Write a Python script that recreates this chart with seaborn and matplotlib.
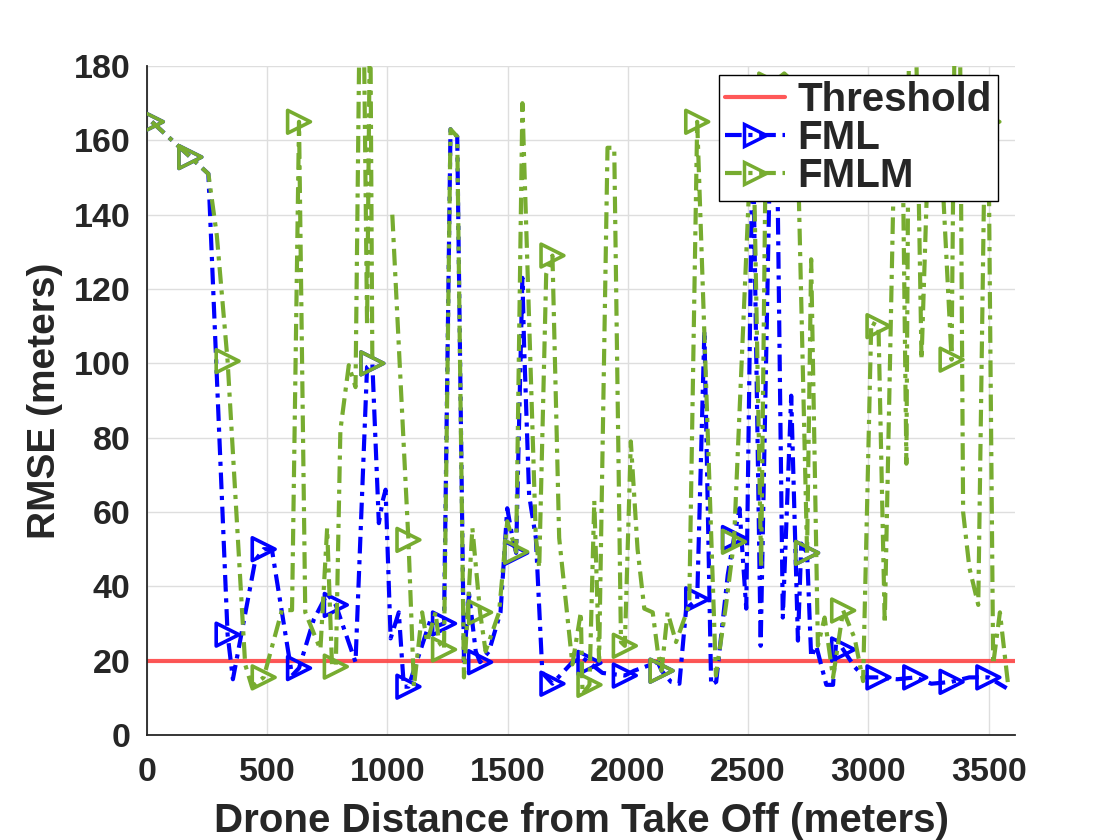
import matplotlib
matplotlib.use("Agg")
import pandas as pd
import matplotlib.pyplot as plt
from matplotlib.lines import Line2D
import seaborn as sns

# data
threshold = 20

# distances where a marker is drawn on both traces
mark_x = [20, 180, 335, 485, 632, 785, 937, 1087, 1235, 1385, 1535, 1686,
          1840, 1987, 2140, 2288, 2441, 2592, 2745, 2895, 3042, 3195, 3346, 3499]

fml_x = [20, 180, 255, 335, 357, 450, 485, 519, 603, 632, 693, 749, 785, 867,
         915, 937, 964, 980, 992, 1013, 1047, 1068, 1087, 1179, 1214, 1235,
         1262, 1290, 1318, 1339, 1367, 1385, 1422, 1470, 1498, 1520, 1535,
         1561, 1568, 1589, 1617, 1644, 1686, 1769, 1811, 1840, 1894, 1987,
         2026, 2124, 2140, 2179, 2214, 2242, 2288, 2318, 2346, 2367, 2415,
         2441, 2464, 2492, 2519, 2552, 2592, 2620, 2644, 2679, 2707, 2721,
         2745, 2762, 2783, 2825, 2853, 2867, 2895, 2943, 2985, 3042, 3120,
         3195, 3262, 3346, 3420, 3499, 3575]
fml_y = [165, 155.5, 151, 27, 15, 47, 50, 50, 16, 18, 31, 38, 35, 19.6,
         99, 100, 57, 63, 66, 26, 33, 13, 13, 31, 29.5, 30,
         163, 161, 20, 38, 22.5, 19.6, 22.5, 33, 61, 53, 49,
         123, 105, 64.5, 53, 16.7, 13.8, 19.6, 20.8, 19.4, 16.7, 16,
         17.3, 19.6, 17.3, 14.3, 13.8, 34, 36.5, 108.8, 13.5, 14.3, 43,
         53, 61, 34, 165, 24, 160, 160, 31.6, 91.3, 25.4, 51.5,
         49, 21, 24, 13.5, 13.5, 26, 23, 18.3, 15.5, 15.5, 15,
         15.5, 13.8, 14.3, 15.5, 15.5, 12.6]

fmlm_x = [20, 180, 255, 290, 335, 408, 436, 485, 561, 603, 632, 658, 721, 749,
          769, 785, 804, 839, 867, 885, 900, 915, 928, 937,
          1020, 1087, 1110, 1144, 1165, 1200, 1214, 1235, 1262, 1290, 1318,
          1353, 1385, 1408, 1464, 1498, 1535, 1561, 1617, 1631, 1660, 1686,
          1714, 1769, 1804, 1811, 1840, 1860, 1880, 1915, 1943, 1971, 1987,
          2012, 2040, 2068, 2103, 2124, 2140, 2165, 2200, 2255, 2288, 2366,
          2408, 2441, 2519, 2554, 2575, 2592, 2650, 2700, 2745, 2762, 2790,
          2818, 2853, 2895, 2943, 2978, 3012, 3042, 3068, 3110, 3144, 3158,
          3170, 3195, 3221, 3250, 3300, 3346, 3360, 3380, 3394, 3420, 3457,
          3485, 3499, 3519, 3547, 3582]
fmlm_y = [165, 155.5, 151, 134.5, 100.6, 19, 13, 15.5, 33.6, 33.6, 165, 33, 23, 55.7,
          19, 18.4, 82, 99.5, 93.6, 200, 200, 110, 200, 100,
          140, 52.5, 13, 33, 25, 33, 25, 23, 163, 161, 15.5,
          55.7, 33, 22.5, 33, 57.5, 49.3, 170, 53, 45, 124, 129,
          53, 19, 33, 11, 13.5, 63, 20, 158, 158, 25, 24,
          79, 50, 34, 33, 22.5, 17.3, 33, 25, 35, 165, 16,
          35, 52, 170, 45, 170, 175, 178, 175, 49, 128, 24,
          31.6, 15.5, 33.5, 26, 14.5, 111, 110, 30, 165, 150, 73,
          200, 200, 101, 160, 160, 101, 200, 200, 60, 45, 35,
          165, 165, 19, 33, 13]
# the FMLM trace has a hole between 937 m and 1020 m
fmlm_seg = [0] * 24 + [1] * (len(fmlm_x) - 24)

fml = pd.DataFrame({"x": fml_x, "y": fml_y, "seg": 0})
fmlm = pd.DataFrame({"x": fmlm_x, "y": fmlm_y, "seg": fmlm_seg})

sns.set_theme(style="white")
plt.rcParams["font.family"] = ["Liberation Sans", "DejaVu Sans"]
plt.rcParams["font.weight"] = "bold"

blue = "#0000FF"
green = "#77AC30"
red = "#FF3B3B"
txt = "#262626"
dashdot = (0, (4, 1.6, 1, 1.6))

fig, ax = plt.subplots(figsize=(11.2, 8.4), dpi=100)
fig.subplots_adjust(left=0.1313, right=0.9063, top=0.9214, bottom=0.125)

ax.axhline(threshold, color=red, lw=3, alpha=0.85, zorder=2)

sns.lineplot(data=fml, x="x", y="y", units="seg", estimator=None, sort=False,
             color=blue, lw=3, linestyle=dashdot, ax=ax, zorder=3)
sns.scatterplot(data=fml[fml["x"].isin(mark_x)], x="x", y="y", marker=">",
                s=270, facecolors="none", edgecolors=blue, linewidths=2.6,
                ax=ax, zorder=4)
sns.lineplot(data=fmlm, x="x", y="y", units="seg", estimator=None, sort=False,
             color=green, lw=3, linestyle=dashdot, ax=ax, zorder=5)
sns.scatterplot(data=fmlm[fmlm["x"].isin(mark_x)], x="x", y="y", marker=">",
                s=270, facecolors="none", edgecolors=green, linewidths=2.6,
                ax=ax, zorder=6)

ax.set_xlim(0, 3610)
ax.set_ylim(0, 180)
ax.set_xticks(range(0, 3501, 500))
ax.set_yticks(range(0, 181, 20))
ax.grid(True, color="#dedede", lw=1)
ax.set_axisbelow(True)
for side in ["top", "right"]:
    ax.spines[side].set_visible(False)
for side in ["left", "bottom"]:
    ax.spines[side].set_color(txt)
    ax.spines[side].set_linewidth(1.3)
ax.tick_params(direction="in", length=7, width=1.2, colors=txt,
               labelsize=24.5)
ax.tick_params(axis="x", pad=16)
ax.tick_params(axis="y", pad=12)
for lab in ax.get_xticklabels() + ax.get_yticklabels():
    lab.set_fontweight("bold")

ax.set_xlabel("Drone Distance from Take Off (meters)", fontsize=29,
              fontweight="bold", color=txt, labelpad=10)
ax.set_ylabel("RMSE (meters)", fontsize=28, fontweight="bold", color=txt,
              labelpad=8)

handles = [
    Line2D([], [], color=red, lw=3, alpha=0.85),
    Line2D([], [], color=blue, lw=3, ls=dashdot, marker=">", ms=16,
           mfc="none", mec=blue, mew=2.5),
    Line2D([], [], color=green, lw=3, ls=dashdot, marker=">", ms=16,
           mfc="none", mec=green, mew=2.5),
]
leg = ax.legend(handles, ["Threshold", "FML", "FMLM"], loc="upper right",
                bbox_to_anchor=(0.98, 0.987), borderaxespad=0, fancybox=False,
                framealpha=1, edgecolor="black", handlelength=1.5,
                handletextpad=0.3, labelspacing=0.0, borderpad=0.15,
                prop={"size": 29, "weight": "bold"})
leg.get_frame().set_linewidth(1)
leg.set_zorder(10)

plt.savefig("out.png", dpi=100)
